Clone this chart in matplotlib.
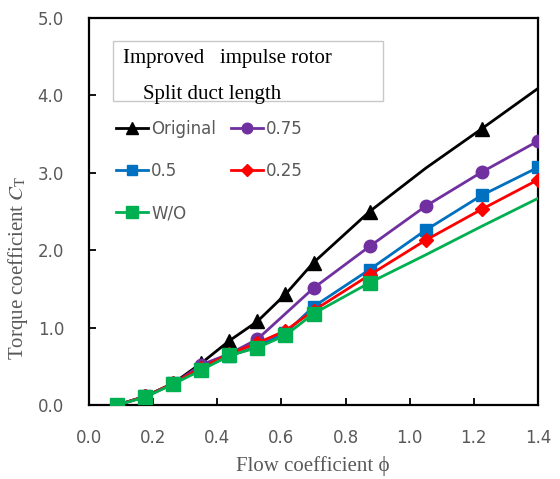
import matplotlib
matplotlib.use("Agg")
import matplotlib.pyplot as plt
from matplotlib.lines import Line2D
from matplotlib.patches import Rectangle

plt.rcParams['mathtext.fontset'] = 'stix'

# ---- data ----
phi = [0.0875, 0.175, 0.2625, 0.35, 0.4375, 0.525, 0.6125, 0.70, 0.875, 1.05, 1.225, 1.40]
ct_original = [0.0, 0.11, 0.28, 0.54, 0.83, 1.08, 1.43, 1.84, 2.50, 3.06, 3.57, 4.09]
ct_075 = [0.0, 0.11, 0.27, 0.52, 0.66, 0.85, 1.18, 1.51, 2.05, 2.57, 3.01, 3.41]
ct_05 = [0.0, 0.11, 0.28, 0.47, 0.63, 0.76, 0.93, 1.27, 1.75, 2.26, 2.71, 3.07]
ct_025 = [0.0, 0.11, 0.28, 0.48, 0.66, 0.80, 0.96, 1.22, 1.68, 2.13, 2.53, 2.91]
ct_wo = [0.0, 0.10, 0.27, 0.45, 0.64, 0.74, 0.90, 1.18, 1.58, 1.94, 2.31, 2.67]

series_labels = ["Original", "0.75", "0.5", "0.25", "W/O"]
x_ticks = [0.0, 0.2, 0.4, 0.6, 0.8, 1.0, 1.2, 1.4]
y_ticks = [0.0, 1.0, 2.0, 3.0, 4.0, 5.0]

fig = plt.figure(figsize=(5.6, 4.79), dpi=100)
ax = fig.add_axes([89/560, 1-405/479, (538-89)/560, (405-18)/479])

styles = [
    (ct_original, '#000000', '^', 10, [0, 1, 2, 3, 4, 5, 6, 7, 8, 10]),
    (ct_075, '#7030A0', 'o', 9, [0, 1, 2, 3, 5, 7, 8, 9, 10, 11]),
    (ct_05, '#0070C0', 's', 8.5, None),
    (ct_025, '#FF0000', 'D', 7.5, None),
    (ct_wo, '#00B050', 's', 9.5, [0, 1, 2, 3, 4, 5, 6, 7, 8]),
]

handles = []
for (vals, col, mk, ms, me), lab in zip(styles, series_labels):
    ax.plot(phi, vals, color=col, lw=2.0, marker=mk, ms=ms, markevery=me,
            mfc=col, mec=col, zorder=3)
    handles.append(Line2D([0], [0], color=col, lw=2.0, marker=mk, ms=ms * 0.85,
                          mfc=col, mec=col))

ax.set_xlim(0, 1.4)
ax.set_ylim(0, 5.0)
ax.set_xticks(x_ticks)
ax.set_yticks(y_ticks)
ax.set_xticklabels([f"{v:.1f}" for v in x_ticks])
ax.set_yticklabels([f"{v:.1f}" for v in y_ticks])
ax.tick_params(axis='both', direction='in', length=5, width=1.3,
               labelsize=12, labelcolor='#595959')
ax.tick_params(axis='x', pad=17)
ax.tick_params(axis='y', pad=18)
for sp in ax.spines.values():
    sp.set_linewidth(1.6)
    sp.set_color('black')

# axis labels
fig.text(313/560, 1-466/479, "Flow coefficient ϕ", ha='center', va='center',
         fontsize=15, color='#595959', family=['Liberation Serif', 'DejaVu Serif'])
fig.text(18/560, 1-268/479, r"Torque coefficient $C_\mathrm{T}$", ha='center', va='center',
         rotation=90, fontsize=15, color='#595959', family=['Liberation Serif', 'DejaVu Serif'])

# title box
box = Rectangle((113/560, 1-101/479), (383-113)/560, (101-41)/479, transform=fig.transFigure,
                facecolor='white', edgecolor='#C8C8C8', lw=1.0, zorder=4)
fig.add_artist(box)
fig.text(123/560, 1-59/479, "Improved   impulse rotor", ha='left', va='center',
         fontsize=15, color='black', family='Liberation Serif', zorder=5)
fig.text(143/560, 1-95/479, "Split duct length", ha='left', va='center',
         fontsize=15, color='black', family='Liberation Serif', zorder=5)

# legend (row-major order via column ordering)
order = [0, 2, 4, 1, 3]
leg = ax.legend([handles[i] for i in order], [series_labels[i] for i in order],
                ncol=2, frameon=False, loc='upper left',
                bbox_to_anchor=(116/560, 1-120/479), bbox_transform=fig.transFigure,
                fontsize=12, labelcolor='#595959', handlelength=1.9,
                handletextpad=0.2, columnspacing=0.9, labelspacing=1.45,
                borderpad=0, borderaxespad=0)

fig.savefig("out.png", dpi=100)
